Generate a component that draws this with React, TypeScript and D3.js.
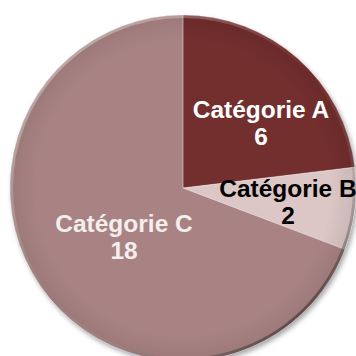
import React from "react";
import * as d3 from "d3";

const categories = ["Catégorie A", "Catégorie B", "Catégorie C"];
const values = [6, 2, 18];
const colors = ["#732f2f", "#dcc6c6", "#a98383"];
const labelColors = ["#ffffff", "#000000", "#f4eeee"];
const labelRadiusFactor = [0.598, 0.61, 0.432];
const labelAngleShift = [0.129, -0.017, -0.057];

export default function App() {
  const W = 356;
  const H = 356;
  const cx = 183;
  const cy = 188;
  const r = 173;
  const pie = d3.pie<number>().sort(null).value((d) => d);
  const arcs = pie(values);
  const arc = d3.arc<d3.PieArcDatum<number>>().innerRadius(0).outerRadius(r);
  return (
    <svg width={W} height={H} style={{ position: "absolute", left: 0, top: 0 }}>
      <defs>
        <filter id="sh" x="-10%" y="-10%" width="130%" height="130%">
          <feDropShadow dx="2" dy="3" stdDeviation="2.5" floodColor="#000" floodOpacity="0.35" />
        </filter>
        <linearGradient id="rim" x1="0.15" y1="0.1" x2="0.85" y2="0.9">
          <stop offset="0" stopColor="#ffffff" stopOpacity="0.35" />
          <stop offset="0.5" stopColor="#ffffff" stopOpacity="0" />
          <stop offset="1" stopColor="#000000" stopOpacity="0.45" />
        </linearGradient>
        <radialGradient id="shade" cx="0.5" cy="0.5" r="0.5">
          <stop offset="0.85" stopColor="#000" stopOpacity="0" />
          <stop offset="1" stopColor="#000" stopOpacity="0.08" />
        </radialGradient>
      </defs>
      <g transform={`translate(${cx},${cy})`}>
        <g filter="url(#sh)">
          {arcs.map((a, i) => (
            <path key={i} d={arc(a) || ""} fill={colors[i]} />
          ))}
        </g>
        <circle r={r} fill="url(#shade)" />
        {arcs.map((a, i) => (
          <path key={"e" + i} d={arc(a) || ""} fill="none" stroke="#ffffff" strokeOpacity={0.25} strokeWidth={1} />
        ))}
        <circle r={r - 1.5} fill="none" stroke="url(#rim)" strokeWidth={3} />
        {arcs.map((a, i) => {
          const mid = (a.startAngle + a.endAngle) / 2 + labelAngleShift[i];
          const lr = r * labelRadiusFactor[i];
          const x = Math.sin(mid) * lr;
          const y = -Math.cos(mid) * lr;
          return (
            <text
              key={"t" + i}
              x={x}
              y={y}
              textAnchor="middle"
              fontFamily="'Liberation Sans', Arial, sans-serif"
              fontWeight="bold"
              fontSize={24.5}
              fill={labelColors[i]}
            >
              <tspan x={x} dy={-2}>{categories[i]}</tspan>
              <tspan x={x} dy={27}>{values[i]}</tspan>
            </text>
          );
        })}
      </g>
    </svg>
  );
}
